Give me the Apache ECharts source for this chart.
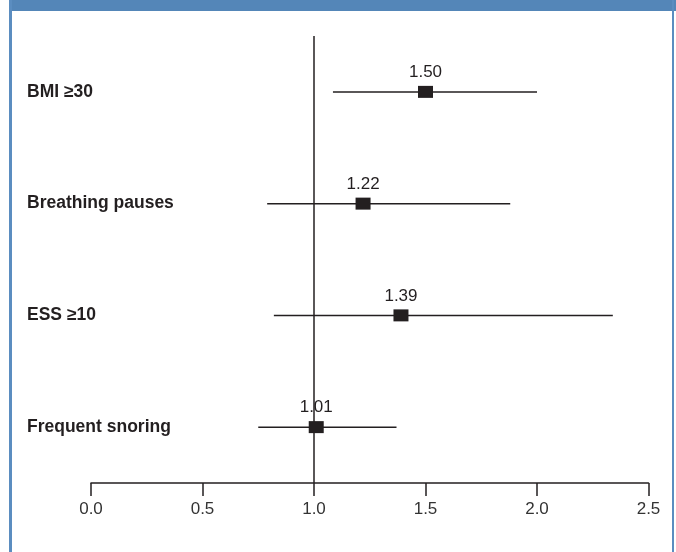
<!DOCTYPE html>
<html>
<head>
<meta charset="utf-8">
<script src="https://cdn.jsdelivr.net/npm/echarts@6/dist/echarts.min.js"></script>
<style>html,body{margin:0;padding:0;background:#fff;}#c{width:676px;height:552px;}</style>
</head>
<body>
<div id="c"></div>
<script>
var categories = ['BMI \u226530', 'Breathing pauses', 'ESS \u226510', 'Frequent snoring'];
var estimates = [1.50, 1.22, 1.39, 1.01];
var lowerCI = [1.085, 0.79, 0.82, 0.75];
var upperCI = [2.00, 1.88, 2.34, 1.37];
var xTicks = [0, 0.5, 1.0, 1.5, 2.0, 2.5];
var referenceValue = 1.0;

var chart = echarts.init(document.getElementById('c'), null, {renderer: 'canvas'});
var ink = '#231f20';
var font = 'Liberation Sans, Arial, sans-serif';
var ciData = categories.map(function (c, i) { return [lowerCI[i], upperCI[i], i]; });
var ptData = categories.map(function (c, i) { return [estimates[i], c]; });

chart.setOption({
  animation: false,
  backgroundColor: '#ffffff',
  graphic: [
    {type: 'rect', shape: {x: 9, y: 0, width: 667, height: 11}, style: {fill: '#5486b8'}, silent: true},
    {type: 'rect', shape: {x: 9, y: 0, width: 3, height: 552}, style: {fill: '#5b8dc0'}, silent: true},
    {type: 'rect', shape: {x: 672, y: 0, width: 2, height: 552}, style: {fill: '#5b8dc0'}, silent: true}
  ],
  grid: {left: 91, right: 27.5, top: 36, bottom: 69, containLabel: false},
  xAxis: {
    type: 'value', min: xTicks[0], max: xTicks[xTicks.length - 1], interval: 0.5,
    splitLine: {show: false},
    axisLine: {show: true, lineStyle: {color: ink, width: 1.5}},
    axisTick: {show: true, length: 13, lineStyle: {color: ink, width: 1.5}},
    axisLabel: {margin: 18, color: '#333', fontSize: 17, fontFamily: font,
      formatter: function (v) { return v.toFixed(1); }}
  },
  yAxis: {
    type: 'category', data: categories, inverse: true,
    axisLine: {show: false}, axisTick: {show: false}, splitLine: {show: false},
    axisLabel: {align: 'left', margin: 64, color: ink, fontSize: 17.5, fontWeight: 'bold', fontFamily: font}
  },
  series: [
    {
      type: 'custom',
      data: ciData,
      renderItem: function (params, api) {
        var a = api.coord([api.value(0), api.value(2)]);
        var b = api.coord([api.value(1), api.value(2)]);
        return {type: 'line', shape: {x1: a[0], y1: a[1], x2: b[0], y2: b[1]},
          style: {stroke: ink, lineWidth: 1.5}};
      },
      z: 2
    },
    {
      type: 'scatter',
      data: ptData,
      symbol: 'rect', symbolSize: [15, 12],
      itemStyle: {color: ink, opacity: 1},
      z: 5,
      label: {show: true, position: 'top', distance: 5, color: ink, fontSize: 17, fontFamily: font,
        formatter: function (p) { return p.value[0].toFixed(2); }},
      markLine: {
        silent: true, symbol: 'none', label: {show: false},
        lineStyle: {color: ink, width: 1.5, type: 'solid'},
        data: [{xAxis: referenceValue}]
      }
    }
  ]
});
</script>
</body>
</html>
